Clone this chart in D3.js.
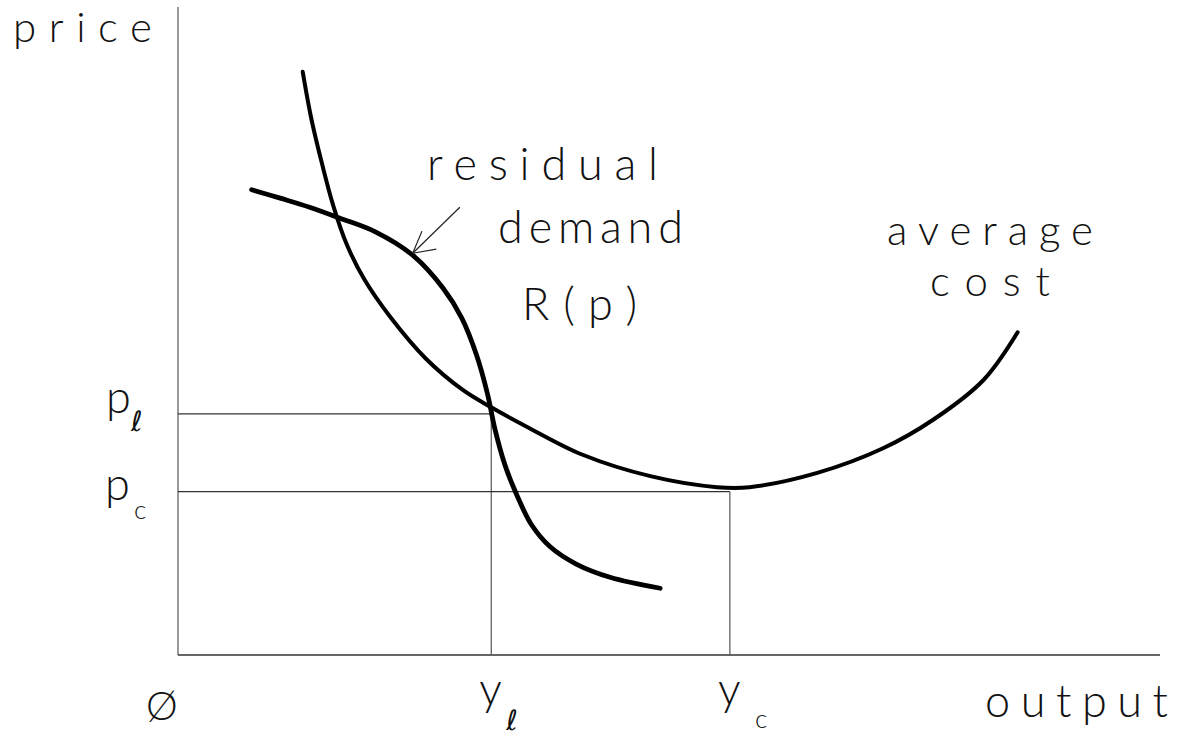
<!DOCTYPE html>
<html>
<head>
<meta charset="utf-8">
<script src="https://cdn.jsdelivr.net/npm/d3@7"></script>
<style>
  body { margin: 0; background: #fff; }
  text { font-family: Lato, "DejaVu Sans", sans-serif; font-weight: 300; fill: #111; }
  text.ell { font-family: "DejaVu Sans", sans-serif; font-weight: 200; font-style: italic; }
</style>
</head>
<body>
<svg id="chart"></svg>
<script>
// values (output, price), axes run 0..100
let avgCostX = [12.7, 13.6, 14.7, 15.8, 17.2, 19.0, 21.6, 25.2, 29.0, 31.8, 35.8, 41.2, 48.1, 54.9, 58.2, 65.1, 71.8, 76.9, 82.0, 85.5]
let avgCostY = [90.0, 82.6, 75.6, 69.4, 63.3, 57.9, 52.2, 45.8, 40.9, 38.3, 35.0, 30.9, 27.6, 25.9, 25.9, 28.1, 31.9, 36.3, 42.4, 49.8]

let demandX = [7.5, 10.4, 13.4, 16.5, 20.1, 23.9, 27.0, 28.9, 30.4, 31.5, 32.3, 33.3, 34.5, 36.0, 37.9, 40.6, 44.0, 49.1]
let demandY = [71.8, 70.5, 69.1, 67.4, 65.3, 61.7, 56.6, 52.0, 46.3, 40.4, 34.7, 29.3, 24.7, 20.1, 16.7, 14.0, 12.0, 10.3]

// levels marked on the axes
let priceLevels = [37.2, 25.2]   // p_l, p_c
let outputLevels = [31.9, 56.2]  // y_l, y_c

// arrow from the label to the demand curve: [tail, tip]
let arrowPts = [[28.7, 69.1], [23.9, 62.0]]

let width = 1179, height = 740

let svg = d3.select('#chart')
    .attr('width', width)
    .attr('height', height)

let x = d3.scaleLinear().domain([0, 100]).range([178, 1160])
let y = d3.scaleLinear().domain([0, 100]).range([655, 7])

let thin = '#333'

// axes (plain lines, no ticks)
svg.append('line')
    .attr('x1', x(0)).attr('y1', y(0)).attr('x2', x(0)).attr('y2', y(100))
    .attr('stroke', '#555').attr('stroke-width', 1.2)
svg.append('line')
    .attr('x1', x(0)).attr('y1', y(0)).attr('x2', x(100)).attr('y2', y(0))
    .attr('stroke', thin).attr('stroke-width', 1.4)

// guide lines p_l / y_l and p_c / y_c
priceLevels.forEach(function (p, i) {
  let q = outputLevels[i]
  svg.append('line')
      .attr('x1', x(0)).attr('y1', y(p)).attr('x2', x(q)).attr('y2', y(p))
      .attr('stroke', thin).attr('stroke-width', 1.3)
  svg.append('line')
      .attr('x1', x(q)).attr('y1', y(p)).attr('x2', x(q)).attr('y2', y(0))
      .attr('stroke', '#555').attr('stroke-width', 1.2)
})

let line = d3.line()
    .x(d => x(d[0]))
    .y(d => y(d[1]))
    .curve(d3.curveCatmullRom.alpha(0.5))

svg.append('path')
    .datum(avgCostX.map((v, i) => [v, avgCostY[i]]))
    .attr('d', line)
    .attr('fill', 'none')
    .attr('stroke', '#000')
    .attr('stroke-width', 4)
    .attr('stroke-linecap', 'round')

svg.append('path')
    .datum(demandX.map((v, i) => [v, demandY[i]]))
    .attr('d', line)
    .attr('fill', 'none')
    .attr('stroke', '#000')
    .attr('stroke-width', 4.8)
    .attr('stroke-linecap', 'round')

// arrow with open head
let tail = [x(arrowPts[0][0]), y(arrowPts[0][1])]
let tip = [x(arrowPts[1][0]), y(arrowPts[1][1])]
let ang = Math.atan2(tail[1] - tip[1], tail[0] - tip[0])
svg.append('line')
    .attr('x1', tail[0]).attr('y1', tail[1]).attr('x2', tip[0]).attr('y2', tip[1])
    .attr('stroke', '#222').attr('stroke-width', 1.2)
;[-0.4, 0.6].forEach(function (da) {
  svg.append('line')
      .attr('x1', tip[0]).attr('y1', tip[1])
      .attr('x2', tip[0] + 24 * Math.cos(ang + da))
      .attr('y2', tip[1] + 24 * Math.sin(ang + da))
      .attr('stroke', '#222').attr('stroke-width', 1.2)
})

// words
function word(txt, px, py, len, size) {
  let t = svg.append('text')
      .attr('x', px).attr('y', py)
      .attr('font-size', size || 45)
      .text(txt)
  if (len) t.attr('textLength', len).attr('lengthAdjust', 'spacing')
  return t
}

word('price', 13, 42, 139, 42)
word('residual', 427, 180, 231)
word('demand', 498, 243, 185)
word('R(p)', 522, 320, 115)
word('average', 887, 245, 206, 42)
word('cost', 930, 296, 120, 42)
word('output', 985, 717, 183)

// axis symbols
word('p', 106, y(priceLevels[0]) - 1)
word('\u2113', 131, y(priceLevels[0]) + 17, null, 28).attr('class', 'ell')
word('p', 105, y(priceLevels[1]) + 8)
word('c', 134, y(priceLevels[1]) + 27, null, 26)

word('\u00d8', 146, 720, null, 40)

outputLevels.forEach(function (q, i) {
  word('y', x(q) - 12, 705)
})
word('\u2113', x(outputLevels[0]) + 15, 730, null, 28).attr('class', 'ell')
word('c', x(outputLevels[1]) + 25, 728, null, 26)
</script>
</body>
</html>
